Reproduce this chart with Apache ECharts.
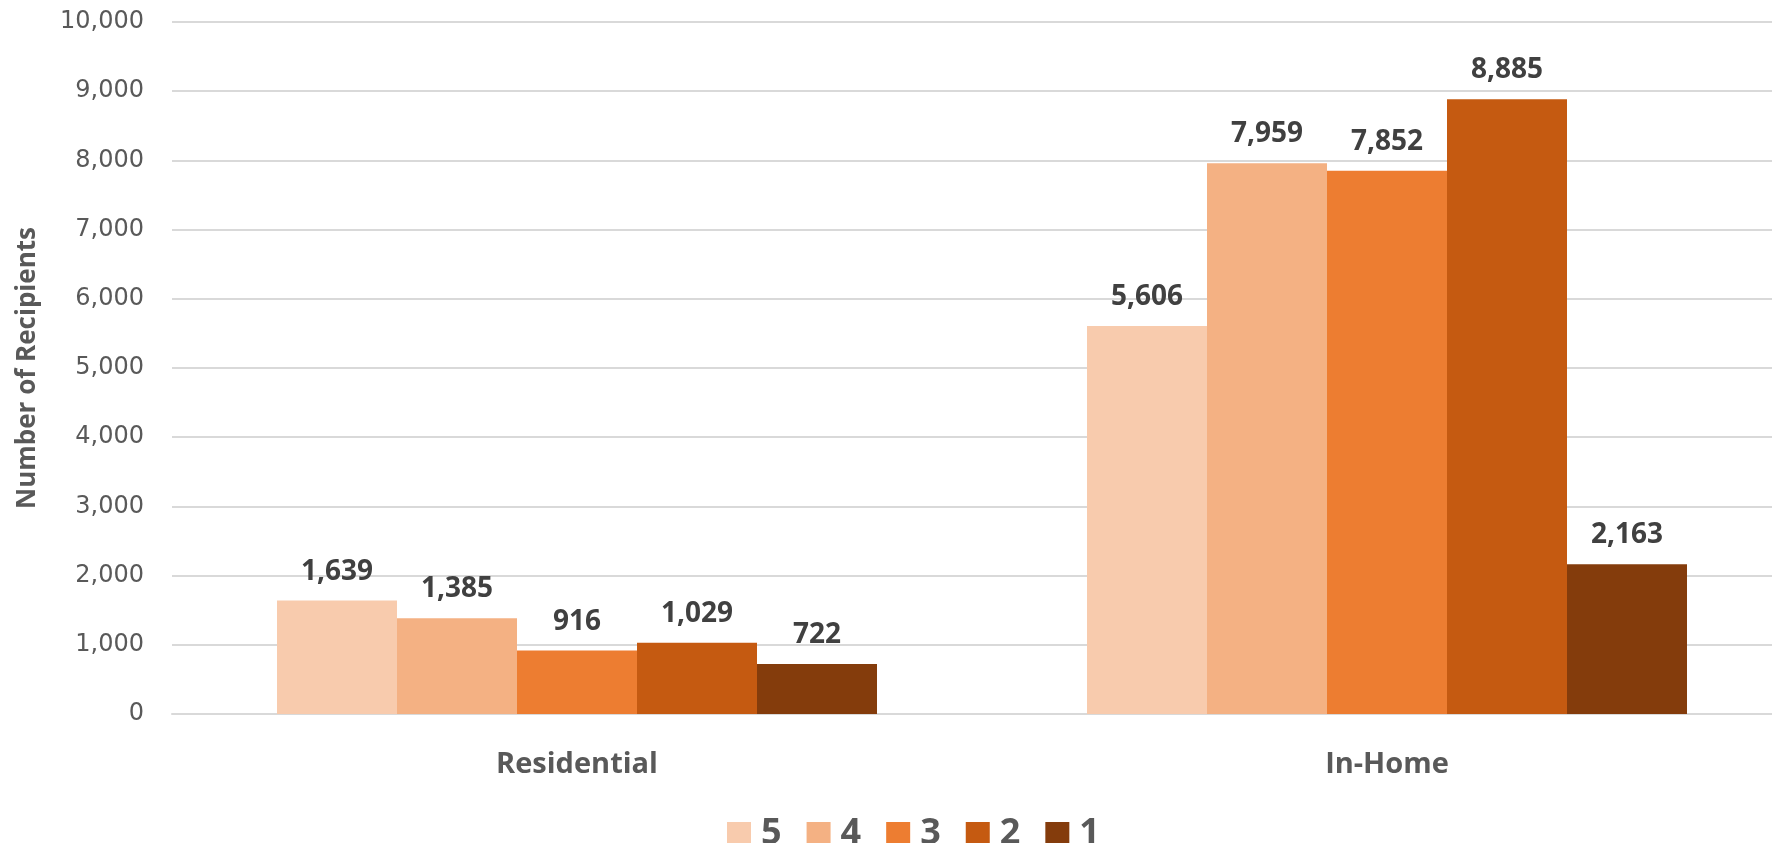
<!DOCTYPE html>
<html>
<head>
<meta charset="utf-8">
<script src="https://cdn.jsdelivr.net/npm/echarts@6/dist/echarts.min.js"></script>
<style>
html,body{margin:0;padding:0;background:#fff;overflow:hidden;}
#chart{width:1800px;height:843px;}
</style>
</head>
<body>
<div id="chart"></div>
<script>
const categories = ['Residential', 'In-Home'];
const seriesNames = ['5', '4', '3', '2', '1'];
const values5 = [1639, 5606];
const values4 = [1385, 7959];
const values3 = [916, 7852];
const values2 = [1029, 8885];
const values1 = [722, 2163];
const seriesValues = [values5, values4, values3, values2, values1];
const colors = ['#F8CBAD', '#F4B183', '#ED7D31', '#C55A11', '#843C0C'];
const yAxisTitle = 'Number of Recipients';

const chart = echarts.init(document.getElementById('chart'));
const fmt = v => Number(v).toLocaleString('en-US');

chart.setOption({
  animation: false,
  backgroundColor: '#ffffff',
  color: colors,
  grid: { left: 172, top: 22, width: 1620, height: 692, containLabel: false },
  legend: {
    data: seriesNames,
    left: 722,
    top: 809,
    icon: 'rect',
    itemWidth: 24,
    itemHeight: 24,
    itemGap: 25,
    textStyle: {
      fontFamily: 'Open Sans', fontWeight: 'bold', fontSize: 36,
      color: '#595959', lineHeight: 40, padding: [0, 0, 0, 5]
    }
  },
  xAxis: {
    type: 'category',
    data: categories,
    axisLine: { lineStyle: { color: '#d9d9d9', width: 2 } },
    axisTick: { show: false },
    axisLabel: {
      margin: 36,
      fontFamily: 'Open Sans', fontWeight: 'bold', fontSize: 29, color: '#595959'
    }
  },
  yAxis: {
    type: 'value',
    min: 0, max: 10000, interval: 1000,
    name: yAxisTitle,
    nameLocation: 'middle',
    nameGap: 131,
    nameTextStyle: { fontFamily: 'Open Sans', fontWeight: 'bold', fontSize: 26, color: '#595959' },
    axisLine: { show: false },
    axisTick: { show: false },
    splitLine: { lineStyle: { color: '#d9d9d9', width: 2 } },
    axisLabel: {
      margin: 28,
      fontFamily: 'DejaVu Sans', fontSize: 24, color: '#595959',
      formatter: v => fmt(v)
    }
  },
  series: seriesNames.map((name, i) => ({
    name: name,
    type: 'bar',
    data: seriesValues[i],
    barWidth: 120,
    barGap: 0,
    itemStyle: { color: colors[i] },
    label: {
      show: true,
      position: 'top',
      distance: 13,
      fontFamily: 'Open Sans', fontWeight: 'bold', fontSize: 28,
      lineHeight: 32,
      color: '#404040',
      formatter: p => fmt(p.value)
    }
  }))
});
</script>
</body>
</html>
